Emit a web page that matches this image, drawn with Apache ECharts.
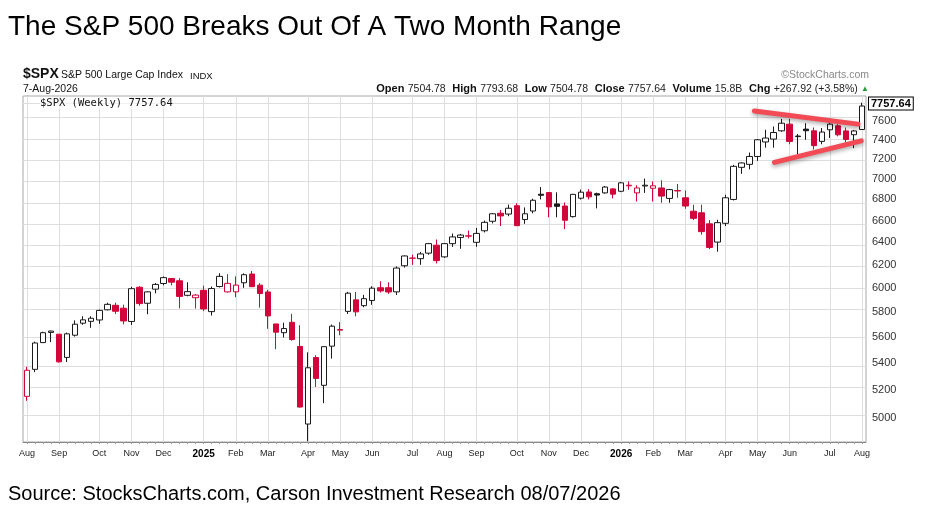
<!DOCTYPE html>
<html><head><meta charset="utf-8">
<script src="https://cdn.jsdelivr.net/npm/echarts@6/dist/echarts.min.js"></script>
<style>html,body{margin:0;padding:0;background:#fff}#c{width:936px;height:526px}</style>
</head><body><div id="c"></div>
<script>
// Weekly bars (week starting Monday)
const weeks = [
'2024-08-05','2024-08-12','2024-08-19','2024-08-26','2024-09-02','2024-09-09','2024-09-16','2024-09-23','2024-09-30','2024-10-07',
'2024-10-14','2024-10-21','2024-10-28','2024-11-04','2024-11-11','2024-11-18','2024-11-25','2024-12-02','2024-12-09','2024-12-16',
'2024-12-23','2024-12-30','2025-01-06','2025-01-13','2025-01-20','2025-01-27','2025-02-03','2025-02-10','2025-02-17','2025-02-24',
'2025-03-03','2025-03-10','2025-03-17','2025-03-24','2025-03-31','2025-04-07','2025-04-14','2025-04-21','2025-04-28','2025-05-05',
'2025-05-12','2025-05-19','2025-05-26','2025-06-02','2025-06-09','2025-06-16','2025-06-23','2025-06-30','2025-07-07','2025-07-14',
'2025-07-21','2025-07-28','2025-08-04','2025-08-11','2025-08-18','2025-08-25','2025-09-01','2025-09-08','2025-09-15','2025-09-22',
'2025-09-29','2025-10-06','2025-10-13','2025-10-20','2025-10-27','2025-11-03','2025-11-10','2025-11-17','2025-11-24','2025-12-01',
'2025-12-08','2025-12-15','2025-12-22','2025-12-29','2026-01-05','2026-01-12','2026-01-19','2026-01-26','2026-02-02','2026-02-09',
'2026-02-16','2026-02-23','2026-03-02','2026-03-09','2026-03-16','2026-03-23','2026-03-30','2026-04-06','2026-04-13','2026-04-20',
'2026-04-27','2026-05-04','2026-05-11','2026-05-18','2026-05-25','2026-06-01','2026-06-08','2026-06-15','2026-06-22','2026-06-29',
'2026-07-06','2026-07-13','2026-07-20','2026-07-27','2026-08-03'
];
const opens = [
5151,5351,5557,5637,5623,5442,5615,5711,5726,5737,
5820,5857,5833,5725,6008,5874,5992,6040,6083,6063,
5940,5920,5982,5805,6014,5969,5969,6046,6121,6026,
5968,5705,5635,5718,5527,4954,5441,5232,5529,5655,
5807,5902,5854,5897,6004,6004,5969,6193,6259,6255,
6304,6375,6271,6389,6445,6457,6401,6506,6594,6669,
6661,6740,6610,6690,6850,6866,6757,6737,6637,6812,
6872,6855,6863,6902,6879,6932,6863,6930,6908,6911,
6810,6882,6816,6688,6673,6570,6403,6575,6800,7115,
7145,7225,7374,7404,7491,7562,7436,7509,7491,7380,
7502,7544,7490,7450,7504.78
];
const highs = [
5370,5564,5643,5651,5624,5636,5734,5767,5767,5822,
5878,5878,5862,6012,6017,5973,6044,6100,6085,6085,
6050,5950,6021,6014,6128,6120,6101,6127,6147,6043,
5986,5705,5715,5787,5695,5481,5459,5528,5700,5720,
5969,5968,5944,6016,6059,6050,6187,6284,6290,6315,
6395,6427,6395,6481,6478,6508,6532,6600,6671,6699,
6750,6764,6724,6807,6920,6870,6869,6771,6853,6895,
6900,6866,6930,6910,6970,6975,6937,7003,6975,6986,
6902,6950,6886,6750,6750,6605,6608,6845,7140,7165,
7265,7405,7502,7537,7618,7618,7458,7572,7526,7520,
7572,7562,7526,7500,7793.68
];
const lows = [
5119,5330,5553,5561,5403,5407,5604,5698,5674,5706,
5815,5786,5702,5697,5853,5783,5957,6024,6024,5832,
5932,5830,5809,5773,6006,5963,5924,6003,6009,5838,
5666,5505,5597,5572,5070,4835,5220,5102,5433,5615,
5786,5767,5841,5861,5963,5952,5943,6177,6201,6201,
6290,6213,6262,6360,6343,6436,6360,6491,6574,6550,
6641,6551,6570,6668,6800,6631,6631,6521,6629,6799,
6800,6715,6855,6810,6870,6893,6780,6863,6780,6768,
6768,6816,6711,6605,6470,6340,6317,6550,6790,7050,
7095,7180,7315,7315,7480,7350,7248,7397,7297,7350,
7415,7433,7370,7310,7504.78
];
const closes = [
5344,5554,5635,5648,5408,5626,5703,5738,5751,5815,
5865,5808,5729,5996,5871,5969,6032,6090,6051,5931,
5971,5942,5827,5997,6101,6041,6026,6115,6013,5955,
5770,5639,5668,5581,5074,5363,5283,5525,5687,5660,
5958,5803,5912,6000,5977,5968,6173,6279,6260,6297,
6389,6238,6389,6450,6467,6460,6482,6584,6664,6644,
6716,6553,6664,6792,6840,6729,6734,6603,6849,6870,
6825,6842,6920,6851,6961,6938,6911,6938,6932,6832,
6895,6886,6737,6621,6498,6355,6581,6816,7125,7159,
7225,7397,7415,7473,7572,7380,7430,7492,7336,7478,
7562,7449,7400,7489.72,7757.64
];
const priorClose = 5347;           // close of the week before the first bar
const lastClose = 7757.64;
const yTickValues = [5000,5200,5400,5600,5800,6000,6200,6400,6600,6800,7000,7200,7400,7600,7800];
const monthNames = ['Jan','Feb','Mar','Apr','May','Jun','Jul','Aug','Sep','Oct','Nov','Dec'];
// trendline endpoints: [week position, price]
const upperTrend = [[90.6, 7704], [103.5, 7562]];
const lowerTrend = [[93.1, 7165], [103.9, 7386]];
const yMin = 4830, yMax = 7868;

const RED = '#d2063a', BLACK = '#1a1a1a';
const L = Math.log;

function monthOf(s){ return +s.slice(5,7); }
const monthStart = weeks.map((w,i)=> i===0 || monthOf(w)!==monthOf(weeks[i-1]));

const candleData = weeks.map((w,i)=>{
  const prev = i===0 ? priorClose : closes[i-1];
  const col = closes[i] >= prev ? BLACK : RED;
  const fill = closes[i] > opens[i] ? '#ffffff' : col;
  return {
    value: [L(opens[i]), L(closes[i]), L(lows[i]), L(highs[i])],
    itemStyle: {color: fill, color0: fill, borderColor: col, borderColor0: col, borderColorDoji: col}
  };
});

const gridLines = [];
weeks.forEach((w,i)=>{ if(monthStart[i]) gridLines.push({xAxis: w}); });
yTickValues.forEach(v=> gridLines.push({yAxis: L(v)}));

const FONT = '"Liberation Sans", Arial, sans-serif';
const chart = echarts.init(document.getElementById('c'), null, {renderer:'canvas'});
chart.setOption({
  animation: false,
  backgroundColor: '#fff',
  grid: {left: 23, right: 70, top: 96, bottom: 84, show: true, borderColor: '#a8a8a8', borderWidth: 1, backgroundColor: '#fff'},
  xAxis: [{
    type: 'category', data: weeks, boundaryGap: true,
    axisLine: {show: true, lineStyle: {color: '#888'}},
    axisTick: {show: true, interval: 0, alignWithLabel: true, length: 2, lineStyle: {color: '#999'}},
    axisLabel: {
      interval: (i)=> monthStart[i],
      margin: 7, fontSize: 9, color: '#222', fontFamily: FONT,
      formatter: (v)=>{ const m = monthOf(v); return m===1 ? '{y|'+v.slice(0,4)+'}' : monthNames[m-1]; },
      rich: {y: {fontWeight: 'bold', fontSize: 10, color: '#000', fontFamily: FONT}}
    },
    splitLine: {show: false}
  }, {
    type: 'value', min: -0.5, max: 104.5, show: false
  }],
  yAxis: {
    type: 'value', position: 'right', min: L(yMin), max: L(yMax), scale: true,
    axisLine: {show: true, lineStyle: {color: '#888'}},
    axisTick: {show: false, customValues: yTickValues.map(L)},
    splitLine: {show: false},
    axisLabel: {
      customValues: yTickValues.map(L),
      formatter: (v)=> String(Math.round(Math.exp(v))),
      fontSize: 11, color: '#333', fontFamily: FONT, margin: 6
    }
  },
  series: [{
    type: 'candlestick', xAxisIndex: 0, yAxisIndex: 0,
    data: candleData, barWidth: 6, z: 3,
    itemStyle: {borderWidth: 1},
    markLine: {
      silent: true, symbol: 'none', z: 1, animation: false,
      label: {show: false},
      lineStyle: {color: '#dedede', width: 1, type: 'solid'},
      emphasis: {disabled: true},
      data: gridLines
    }
  }, {
    type: 'line', xAxisIndex: 1, yAxisIndex: 0, z: 5,
    data: upperTrend.map(p=>[p[0], L(p[1])]),
    symbol: 'none', silent: true,
    lineStyle: {color: '#f24b55', width: 5, cap: 'round', shadowBlur: 4, shadowColor: 'rgba(0,0,0,0.35)', shadowOffsetY: 2}
  }, {
    type: 'line', xAxisIndex: 1, yAxisIndex: 0, z: 5,
    data: lowerTrend.map(p=>[p[0], L(p[1])]),
    symbol: 'none', silent: true,
    lineStyle: {color: '#f24b55', width: 5, cap: 'round', shadowBlur: 4, shadowColor: 'rgba(0,0,0,0.35)', shadowOffsetY: 2}
  }, {
    type: 'candlestick', xAxisIndex: 0, yAxisIndex: 0, data: [], z: 8,
    markLine: {
      silent: true, symbol: 'none', z: 20, animation: false,
      lineStyle: {color: 'rgba(0,0,0,0)', width: 0},
      emphasis: {disabled: true},
      label: {show: true, position: 'end', distance: 3, formatter: lastClose.toFixed(2),
        fontSize: 11, fontWeight: 'bold', color: '#000', fontFamily: FONT,
        backgroundColor: '#fff', borderColor: '#000', borderWidth: 1, padding: [1, 2, 0, 2]},
      data: [{yAxis: L(lastClose)}]
    }
  }],
  graphic: [
    {type: 'text', z: 100, left: 8, top: 13, style: {text: 'The S&P 500 Breaks Out Of A Two Month Range', fontSize: 28, fontFamily: FONT, fill: '#000'}},
    {type: 'text', z: 100, left: 23, top: 67, style: {text: '$SPX', fontSize: 14, fontWeight: 'bold', fontFamily: FONT, fill: '#111'}},
    {type: 'text', z: 100, left: 61, top: 70, style: {text: 'S&P 500 Large Cap Index', fontSize: 10.5, fontFamily: FONT, fill: '#111'}},
    {type: 'text', z: 100, left: 190, top: 71, style: {text: 'INDX', fontSize: 9.5, fontFamily: FONT, fill: '#111'}},
    {type: 'text', z: 100, left: 23, top: 84, style: {text: '7-Aug-2026', fontSize: 10.5, fontFamily: FONT, fill: '#111'}},
    {type: 'text', z: 100, right: 67, top: 70, style: {text: '\u00A9StockCharts.com', fontSize: 10.5, fontFamily: FONT, fill: '#888'}},
    {type: 'text', z: 100, right: 67, top: 83, style: {
      text: '{b|Open} {n|7504.78}  {b|High} {n|7793.68}  {b|Low} {n|7504.78}  {b|Close} {n|7757.64}  {b|Volume} {n|15.8B}  {b|Chg} {n|+267.92 (+3.58%)} {g|\u25B2}',
      rich: {
        b: {fontSize: 11, fontWeight: 'bold', fontFamily: FONT, fill: '#111'},
        n: {fontSize: 10.5, fontFamily: FONT, fill: '#222'},
        g: {fontSize: 8, fontFamily: FONT, fill: '#2a9a3a'}
      }}},
    {type: 'text', z: 100, left: 40, top: 98, style: {text: '$SPX (Weekly) 7757.64', fontSize: 10.5, fontFamily: '"DejaVu Sans Mono", monospace', fill: '#111', backgroundColor: 'rgba(255,255,255,0.6)'}},
    {type: 'text', z: 100, left: 8, top: 484, style: {text: 'Source: StocksCharts.com, Carson Investment Research 08/07/2026', fontSize: 20, fontFamily: FONT, fill: '#000'}}
  ]
});
</script>
</body></html>
